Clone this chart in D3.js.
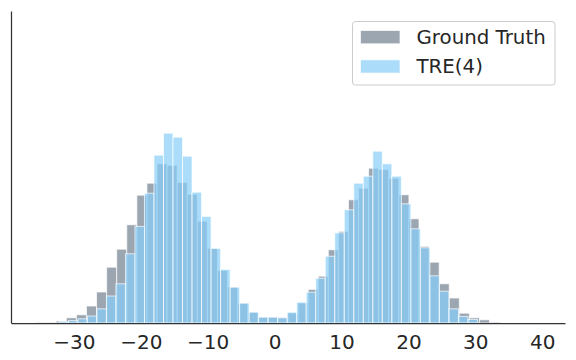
<!DOCTYPE html>
<html>
<head>
<meta charset="utf-8">
<script src="https://cdn.jsdelivr.net/npm/d3@7"></script>
<style>
  body { margin: 0; background: #fff; }
  svg { display: block; font-family: "DejaVu Sans", sans-serif; }
</style>
</head>
<body>
<div id="chart"></div>
<script>
// Histogram bin layout
const truthStart = -35.65, truthWidth = 1.506;
const treStart = -32.25, treWidth = 1.422;

// Counts per bin
const truthCounts = [3, 3, 10, 26, 41, 85, 155, 279, 369, 491, 639, 699, 796, 788, 703, 644, 509, 374, 263, 180,
  100, 55, 30, 30, 28, 50, 100, 168, 234, 366, 458, 616, 674, 774, 768, 724, 641, 521, 383, 304,
  196, 125, 49, 26, 16, 5, 0, 0, 0, 0];
const treCounts = [7, 12, 21, 35, 71, 135, 196, 346, 483, 649, 839, 949, 929, 834, 654, 533, 373, 268, 179, 99,
  54, 29, 29, 26, 54, 104, 154, 224, 334, 451, 566, 699, 734, 859, 796, 734, 596, 471, 376, 236,
  159, 71, 33, 18];

const xTicks = [-30, -20, -10, 0, 10, 20, 30, 40];
const yMax = 1560;

const series = [
  { name: 'Ground Truth', start: truthStart, width: truthWidth, counts: truthCounts, color: '#708090' },
  { name: 'TRE(4)', start: treStart, width: treWidth, counts: treCounts, color: '#87cefa' }
];

const W = 576, H = 360;
const plot = { left: 11, right: 565, top: 11, bottom: 323 };

const svg = d3.select('#chart').append('svg')
  .attr('width', W)
  .attr('height', H);

const x = d3.scaleLinear().domain([-39.4, 43.4]).range([plot.left, plot.right]);
const y = d3.scaleLinear().domain([0, yMax]).range([plot.bottom, plot.top]);

// Bars
for (const s of series) {
  const bins = s.counts.map((c, i) => ({ x0: s.start + i * s.width, x1: s.start + (i + 1) * s.width, c: c }));
  svg.append('g')
    .selectAll('rect')
    .data(bins.filter(d => d.c > 0))
    .join('rect')
      .attr('x', d => x(d.x0))
      .attr('width', d => x(d.x1) - x(d.x0))
      .attr('y', d => y(d.c))
      .attr('height', d => y(0) - y(d.c))
      .attr('fill', s.color)
      .attr('fill-opacity', 0.7)
      .attr('stroke', '#fff')
      .attr('stroke-opacity', 0.7)
      .attr('stroke-width', 1);
}

// Axes (left and bottom spines only)
const xAxis = svg.append('g')
  .attr('transform', 'translate(0,' + plot.bottom + ')')
  .call(d3.axisBottom(x).tickValues(xTicks).tickSizeInner(0).tickSizeOuter(0).tickPadding(12));
xAxis.select('.domain').attr('stroke', '#333').attr('stroke-width', 1.25);
xAxis.selectAll('text')
  .attr('fill', '#262626')
  .style('font-size', '20px')
  .style('font-family', '"DejaVu Sans", sans-serif');

const yAxis = svg.append('g')
  .attr('transform', 'translate(' + plot.left + ',0)')
  .call(d3.axisLeft(y).tickValues([]).tickSizeOuter(0));
yAxis.select('.domain').attr('stroke', '#333').attr('stroke-width', 1.25);

// Legend
const legend = svg.append('g').attr('transform', 'translate(352.5,21.5)');
legend.append('rect')
  .attr('width', 202.5)
  .attr('height', 63.5)
  .attr('rx', 3)
  .attr('fill', '#fff')
  .attr('fill-opacity', 0.8)
  .attr('stroke', '#cccccc')
  .attr('stroke-width', 1);

series.forEach((s, i) => {
  const row = legend.append('g').attr('transform', 'translate(8,' + (9 + i * 29.3) + ')');
  row.append('rect')
    .attr('width', 39.5)
    .attr('height', 13.3)
    .attr('fill', s.color)
    .attr('fill-opacity', 0.7)
    .attr('stroke', '#fff')
    .attr('stroke-opacity', 0.7);
  row.append('text')
    .attr('x', 56)
    .attr('y', 6.7)
    .attr('dy', '0.35em')
    .attr('fill', '#262626')
    .style('font-size', '19.8px')
    .text(s.name);
});
</script>
</body>
</html>
